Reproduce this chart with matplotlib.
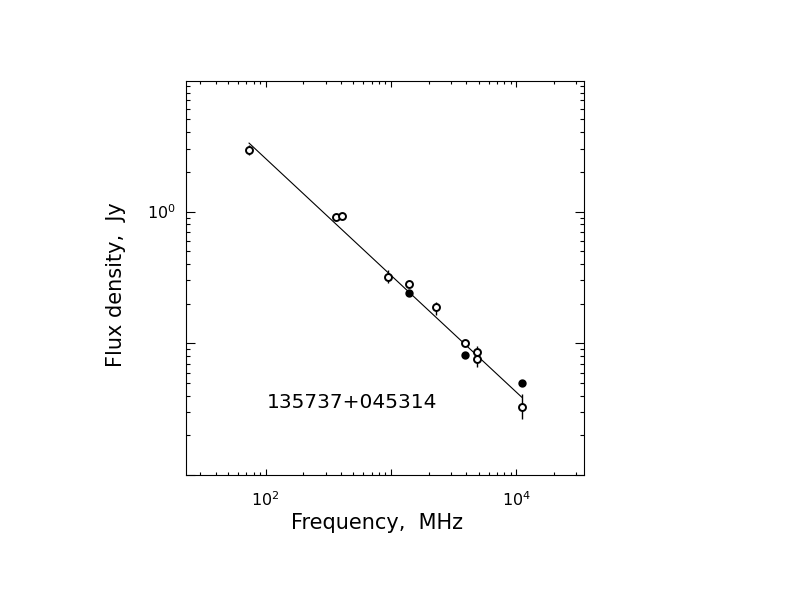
import matplotlib
matplotlib.use('Agg')
import matplotlib.pyplot as plt
from matplotlib.ticker import FixedLocator, LogLocator, NullFormatter

# measured spectrum points (MHz, Jy)
freq = [74, 365, 408, 950, 1400, 1400, 2300, 3900, 3900, 4850, 4850, 11040, 11040]
flux = [2.94, 0.916, 0.932, 0.321, 0.281, 0.240, 0.187, 0.101, 0.0817, 0.086, 0.0757, 0.0503, 0.0331]
err_lo = [0.25, 0.02, 0.02, 0.034, 0.0, 0.0, 0.023, 0.004, 0.0, 0.0058, 0.0093, 0.0, 0.0066]
err_hi = [0.26, 0.02, 0.02, 0.038, 0.0, 0.0, 0.020, 0.004, 0.0, 0.0096, 0.0059, 0.0, 0.0082]
filled = [False, False, False, False, False, True, False, False, True, False, False, True, False]

# fitted power law, read at its two ends
fit_freq = [73.6, 11040]
fit_flux = [3.31, 0.039]

source_name = '135737+045314'
x_major = [10, 100, 1000, 10000]
x_labels = ['', '$10^{2}$', '', '$10^{4}$']
y_major = [0.01, 0.1, 1, 10]
y_labels = ['', '', '$10^{0}$', '']

plt.rcParams['font.family'] = ['DejaVu Sans']
plt.rcParams['mathtext.fontset'] = 'dejavusans'

fig = plt.figure(figsize=(7.92, 6.12), dpi=100)
ax = fig.add_axes([186 / 792, 1 - 475 / 612, 398 / 792, 394 / 612])
ax.set_xscale('log')
ax.set_yscale('log')
ax.set_xlim(23.1, 34700)
ax.set_ylim(0.01, 9.8)

ax.plot(fit_freq, fit_flux, color='black', lw=0.8)

for f, s, lo, hi, fl in zip(freq, flux, err_lo, err_hi, filled):
    if lo > 0 or hi > 0:
        ax.errorbar([f], [s], yerr=[[lo], [hi]], fmt='none', ecolor='black',
                    elinewidth=1.0, capsize=0)
    ax.plot([f], [s], marker='o', ms=4.6 if fl else 5, mew=1.4, mec='black',
            mfc='black' if fl else 'white', ls='none', zorder=3)

ax.text(102, 0.0353, source_name, fontsize=14.5, va='center', ha='left',
        color='black')

ax.xaxis.set_major_locator(FixedLocator(x_major))
ax.set_xticklabels(x_labels)
ax.yaxis.set_major_locator(FixedLocator(y_major))
ax.set_yticklabels(y_labels)
ax.xaxis.set_minor_locator(LogLocator(base=10, subs=range(2, 10)))
ax.yaxis.set_minor_locator(LogLocator(base=10, subs=range(2, 10)))
ax.xaxis.set_minor_formatter(NullFormatter())
ax.yaxis.set_minor_formatter(NullFormatter())

ax.tick_params(axis='both', which='both', direction='in', top=True, right=True,
               width=0.8, labelsize=11.5)
ax.tick_params(axis='x', which='major', length=4, pad=11)
ax.tick_params(axis='x', which='minor', length=2.5)
ax.tick_params(axis='y', which='major', length=6.5, pad=7)
ax.tick_params(axis='y', which='minor', length=3.2)
for sp in ax.spines.values():
    sp.set_linewidth(0.8)

ax.set_xlabel('Frequency,  MHz', fontsize=15)
ax.set_ylabel('Flux density,  Jy', fontsize=15)
ax.xaxis.set_label_coords(0.481, -0.097)
ax.yaxis.set_label_coords(-0.15, 0.482)

fig.savefig('out.png', dpi=100)
